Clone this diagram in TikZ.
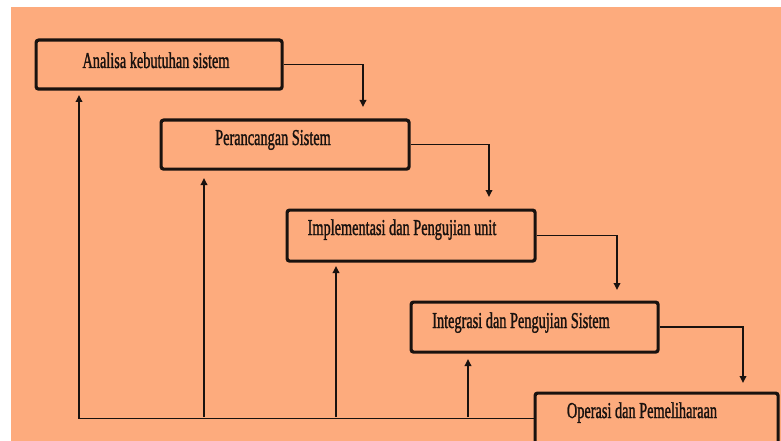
\documentclass[tikz,border=0pt]{standalone}
\usepackage{fontspec}
\setmainfont{Liberation Serif}
\newfontfamily\stagefont{Liberation Serif}[FakeBold=1.6]
\usetikzlibrary{arrows.meta}
\definecolor{peach}{RGB}{253,171,125}
\definecolor{ink}{RGB}{25,18,15}
\begin{document}
\begin{tikzpicture}[x=1pt,y=-1pt,
  stagebox/.style={draw=ink, line width=3.2pt, rounded corners=2.5pt, inner sep=0pt,
    anchor=north west, minimum width=#1},
  stagetext/.style={anchor=base, inner sep=0pt, text=ink,
    font=\stagefont\fontsize{22.7}{24}\selectfont},
  link/.style={draw=ink, line width=1.7pt},
  tip/.style={link, -{Triangle[length=7pt,width=6.5pt]}}
]
\useasboundingbox (0,0) rectangle (781,441);
\clip (0,0) rectangle (781,441);
\fill[white] (0,0) rectangle (781,441);
\fill[peach] (11,7) rectangle (781,441);

% stage boxes of the waterfall
\node[stagebox=246pt, minimum height=49pt] (b1) at (34.5,38.5) {};
\node[stagebox=248pt, minimum height=49pt] (b2) at (159.5,118.5) {};
\node[stagebox=248pt, minimum height=51pt] (b3) at (285.5,208.5) {};
\node[stagebox=247pt, minimum height=50pt] (b4) at (409.5,300.5) {};
\node[stagebox=243pt, minimum height=51pt] (b5) at (533.5,391.5) {};

% stage names
\node[stagetext] (t1) at (156,68)  {\scalebox{0.63}[1]{Analisa kebutuhan sistem}};
\node[stagetext] (t2) at (273,145) {\scalebox{0.63}[1]{Perancangan Sistem}};
\node[stagetext] (t3) at (402,235) {\scalebox{0.63}[1]{Implementasi dan Pengujian unit}};
\node[stagetext] (t4) at (521,328) {\scalebox{0.63}[1]{Integrasi dan Pengujian Sistem}};
\node[stagetext] (t5) at (642,418) {\scalebox{0.63}[1]{Operasi dan Pemeliharaan}};

% forward flow, step by step
\coordinate (e1) at (363,107);
\coordinate (e2) at (489,197);
\coordinate (e3) at (617,290);
\coordinate (e4) at (743,383);
\draw[tip] (b1.east) -| (e1);
\draw[tip] (b2.east) -| (e2);
\draw[tip] (b3.east) -| (e3);
\draw[tip] (b4.east) -| (e4);

% feedback line back to every earlier stage
\coordinate (f1) at (79,95);
\coordinate (j2) at (204,417);
\coordinate (f2) at (204,178);
\coordinate (j3) at (336,417);
\coordinate (f3) at (336,266);
\coordinate (j4) at (468,417);
\coordinate (f4) at (468,359);
\draw[tip] (b5.west) -| (f1);
\draw[tip] (j2) -- (f2);
\draw[tip] (j3) -- (f3);
\draw[tip] (j4) -- (f4);
\end{tikzpicture}
\end{document}
